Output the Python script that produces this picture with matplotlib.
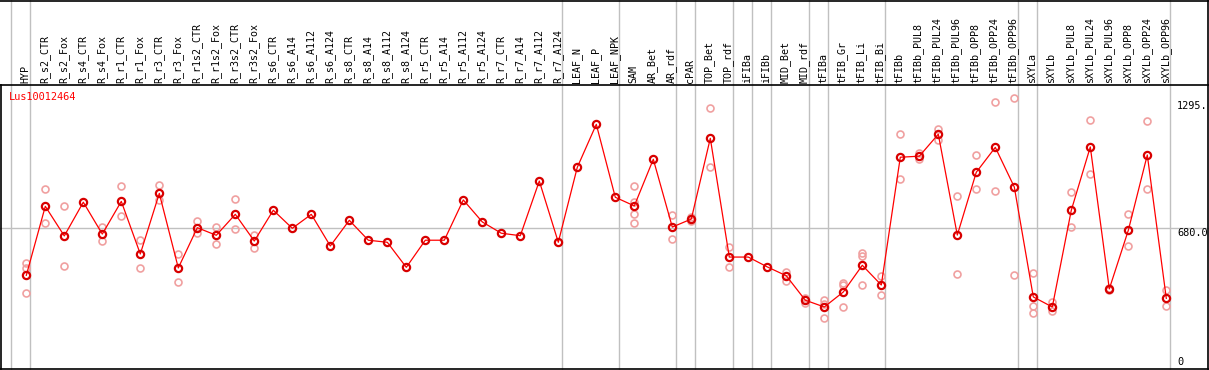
import numpy as np
import matplotlib
matplotlib.use("Agg")
import matplotlib.pyplot as plt

# sample names (header row)
samples = ["HYP", "R_s2_CTR", "R_s2_Fox", "R_s4_CTR", "R_s4_Fox", "R_r1_CTR", "R_r1_Fox",
           "R_r3_CTR", "R_r3_Fox", "R_r1s2_CTR", "R_r1s2_Fox", "R_r3s2_CTR", "R_r3s2_Fox",
           "R_s6_CTR", "R_s6_A14", "R_s6_A112", "R_s6_A124", "R_s8_CTR", "R_s8_A14",
           "R_s8_A112", "R_s8_A124", "R_r5_CTR", "R_r5_A14", "R_r5_A112", "R_r5_A124",
           "R_r7_CTR", "R_r7_A14", "R_r7_A112", "R_r7_A124", "LEAF_N", "LEAF_P", "LEAF_NPK",
           "SAM", "AR_Bet", "AR_rdf", "cPAR", "TOP_Bet", "TOP_rdf", "iFIBa", "iFIBb",
           "MID_Bet", "MID_rdf", "tFIBa", "tFIB_Gr", "tFIB_Li", "tFIB_Bi", "tFIBb",
           "tFIBb_PUL8", "tFIBb_PUL24", "tFIBb_PUL96", "tFIBb_OPP8", "tFIBb_OPP24",
           "tFIBb_OPP96", "sXYLa", "sXYLb", "sXYLb_PUL8", "sXYLb_PUL24", "sXYLb_PUL96",
           "sXYLb_OPP8", "sXYLb_OPP24", "sXYLb_OPP96"]

# mean expression per sample
mean_expr = [451, 787, 643, 807, 652, 811, 555, 850, 487, 683, 646, 748, 618,
             768, 680, 748, 594, 719, 622, 612, 490, 622, 622, 818, 711,
             656, 644, 910, 612, 977, 1186, 831,
             789, 1016, 686, 725, 1118, 540, 540, 492,
             449, 330, 297, 370, 500, 404, 1026,
             1031, 1138, 647, 953, 1074, 881, 346, 297, 768, 1076, 385,
             670, 1037, 339]

# individual replicates
replicates = [[510, 485, 364], [870, 706], [789, 495], [], [688, 617], [886, 738], [623, 485],
              [891, 818], [553, 417], [716, 659], [685, 602], [821, 675], [649, 586],
              [], [], [], [], [], [], [], [], [], [], [], [],
              [], [], [], [], [], [], [],
              [885, 807, 748, 704], [], [743, 627], [735, 714], [1264, 977], [589, 490], [], [],
              [466, 424], [342, 318], [331, 312, 242], [415, 404, 295], [561, 545, 403],
              [448, 354], [1139, 919],
              [1045, 1016], [1163, 1110], [837, 456], [1035, 870], [1293, 862], [1313, 453],
              [462, 302, 268], [320, 276], [855, 685], [1206, 943], [390, 380],
              [748, 592], [1201, 870], [380, 302]]

gene = "Lus10012464"
tick_vals = [1295, 680, 0]
tick_labels = ["1295.", "680.0", "0"]
group_ends = [-1, 0, 28, 31, 34, 35, 37, 38, 39, 41, 42, 45, 52, 53, 60]

W, H = 1209, 370
fig = plt.figure(figsize=(W / 100, H / 100), dpi=100)
ax = fig.add_axes([0, 0, 1, 1])
ax.set_axis_off()

# pixel -> data mapping (19 px per sample, 680 at y=228.3, 0 at y=368)
def px2x(px):
    return (px - 26.3) / 19.0

def py2v(py):
    return (368.0 - py) * 680.0 / (368.0 - 228.3)

ax.set_xlim(px2x(0), px2x(W))
ax.set_ylim(py2v(H), py2v(0))

mono = "DejaVu Sans Mono"
grey = "#c0c0c0"
x = np.arange(len(samples))

# group separators
for g in group_ends:
    ax.axvline(g + 4 / 19.0, color=grey, lw=1, zorder=1)
ax.axhline(680, color=grey, lw=1, zorder=1)

# frame
ax.plot([px2x(0), px2x(W)], [py2v(85), py2v(85)], color="black", lw=1.2, zorder=2)
ax.plot([px2x(0), px2x(W)], [py2v(0.5), py2v(0.5)], color="black", lw=1.2, zorder=2)
ax.plot([px2x(0), px2x(W)], [py2v(368.5), py2v(368.5)], color="black", lw=1.2, zorder=2)
ax.plot([px2x(0.6), px2x(0.6)], [py2v(85), py2v(369)], color="black", lw=1.2, zorder=2)
ax.plot([px2x(1208), px2x(1208)], [py2v(0), py2v(369)], color="black", lw=1.2, zorder=2)

# header labels
for i, s in enumerate(samples):
    ax.text(i - 0.05, py2v(83), s, rotation=90, ha="center", va="bottom",
            fontsize=7.2, family=mono, color="black")

ax.text(px2x(9), py2v(97.5), gene, ha="left", va="center", fontsize=7.4,
        family=mono, color="red")

# value labels on the right, drawn just below / above the level they mark
for val, lab in zip(tick_vals, tick_labels):
    shift = 4.5 if val > 0 else -6.3   # pixels
    ax.text(px2x(1177), val - shift * 680 / 139.7, lab, ha="left", va="center",
            fontsize=7.4, family=mono, color="black")

# replicate points
for i, reps in enumerate(replicates):
    if reps:
        ax.plot([i] * len(reps), reps, linestyle="none", marker="o", ms=5,
                mfc="none", mec="#f0a0a0", mew=1.2, zorder=3)

# mean line
ax.plot(x, mean_expr, color="red", lw=0.9, zorder=4)
ax.plot(x, mean_expr, linestyle="none", marker="o", ms=5.2, mfc="none",
        mec="#d80000", mew=1.6, zorder=5)

fig.savefig("out.png", dpi=100)
